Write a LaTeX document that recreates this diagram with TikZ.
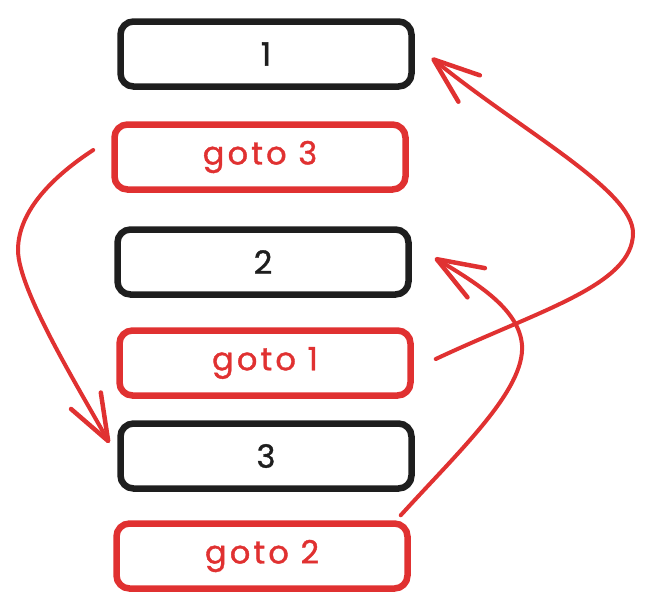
\documentclass[tikz,border=0pt]{standalone}
\usepackage{fontspec}
\setmainfont{Poppins}
\usetikzlibrary{arrows.meta}
\definecolor{gtred}{RGB}{224, 49, 49}
\definecolor{gtblack}{RGB}{30, 30, 30}

\begin{document}
\begin{tikzpicture}[
    x=1pt, y=-1pt,
    every node/.style={font=\fontsize{32}{36}\selectfont\addfontfeature{LetterSpace=10, FakeBold=1.2}},
    line box/.style={draw=gtblack, text=gtblack, line width=6.5pt, rounded corners=13pt,
        minimum width=291pt, minimum height=65pt, inner sep=0pt},
    goto box/.style={line box, draw=gtred, text=gtred},
    goto arrow/.style={draw=gtred, line width=4pt, line cap=round, line join=round,
        -{Straight Barb[length=46pt, width=34pt, line width=4.5pt, round]}}
]
\useasboundingbox (0,0) rectangle (652,614);

% =============================================
% Instructions, top to bottom
% =============================================

\node[line box] (l1) at (266, 54) {1};
\node[goto box] (g3) at (260, 157) {goto 3};
\node[line box] (l2) at (263, 262) {2};
\node[goto box] (g1) at (265, 363) {goto 1};
\node[line box] (l3) at (266, 456) {3};
\node[goto box] (g2) at (262, 556) {goto 2};

% =============================================
% Jumps
% =============================================

% goto 3 -> 3 (left side)
\draw[goto arrow] ([shift={(-18,-7)}]g3.west)
    .. controls (55, 175) and (18, 210) .. (18, 250)
    .. controls (18, 290) and (80, 390) .. ([shift={(-8,-13)}]l3.west);

% goto 1 -> 1 (right side)
\draw[goto arrow] ([shift={(22,-4)}]g1.east)
    .. controls (540, 310) and (633, 285) .. (633, 233)
    .. controls (633, 190) and (520, 130) .. ([shift={(17,4)}]l1.east);

% goto 2 -> 2 (right side)
\draw[goto arrow] ([shift={(-10,-5)}]g2.north east)
    .. controls (460, 450) and (525, 390) .. (522, 345)
    .. controls (519, 310) and (480, 285) .. ([shift={(23,-4)}]l2.east);

\end{tikzpicture}
\end{document}
